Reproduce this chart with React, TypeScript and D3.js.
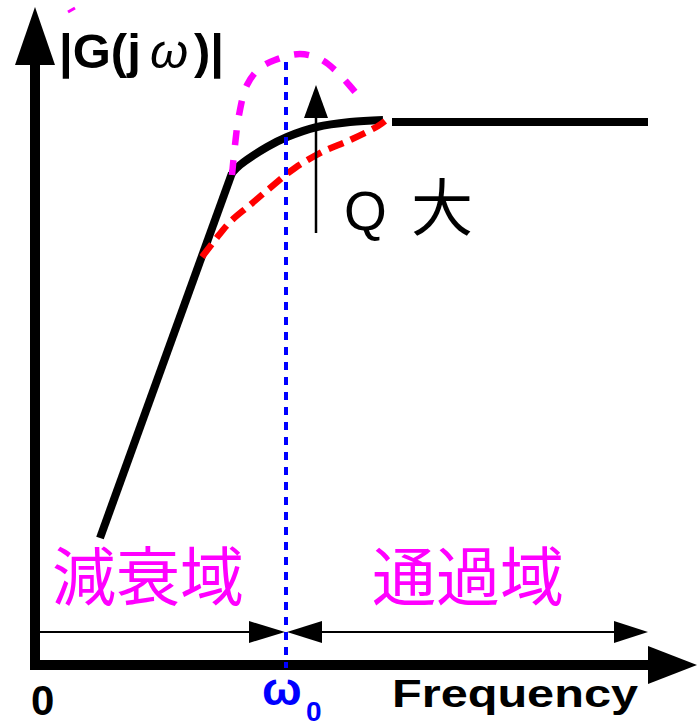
import React from "react";
import * as d3 from "d3";

const W = 697;
const H = 727;

// Curve data in plot units (x: frequency, y: |G(jω)|)
const rolloffLine: [number, number][] = [
  [65, 127],
  [197, 492],
];
const passbandCurve: [number, number][] = [
  [197, 492],
  [205, 500],
  [232, 518],
  [252, 528],
  [282, 538],
  [315, 543],
  [348, 545],
];
const passbandFlat: [number, number][] = [
  [357, 543],
  [613, 543],
];
const highQCurve: [number, number][] = [
  [197, 490],
  [200, 520],
  [204, 550],
  [212, 580],
  [225, 597],
  [240, 605],
  [265, 611],
  [285, 606],
  [300, 595],
  [315, 579],
  [325, 567],
];
const lowQCurve: [number, number][] = [
  [167, 408],
  [180, 425],
  [195, 443],
  [215, 460],
  [235, 477],
  [260, 497],
  [287, 513],
  [315, 525],
  [343, 539],
  [350, 544],
];
const strayDash: [number, number][] = [
  [33, 653],
  [40, 657],
];

const omega0 = 251;
const axisTipX = 662;
const axisTipY = 658;
const bandArrowLevel = 33;
const bandStart = 5;
const bandEnd = 613;
const qArrowX = 281;
const qArrowFrom = 432;
const qArrowTo = 580;

const stopbandLabel = "減衰域";
const passbandLabel = "通過域";
const qLabel = "Q";
const qLabelBig = "大";
const xAxisLabel = "Frequency";
const originLabel = "0";

const x = d3.scaleLinear().domain([0, 650]).range([35, 685]);
const y = d3.scaleLinear().domain([0, 650]).range([665, 15]);

const straight = d3
  .line<[number, number]>()
  .x((d) => x(d[0]))
  .y((d) => y(d[1]));
const smooth = d3
  .line<[number, number]>()
  .x((d) => x(d[0]))
  .y((d) => y(d[1]))
  .curve(d3.curveCatmullRom.alpha(0.5));

const SANS = "'Liberation Sans', Arial, sans-serif";
const CJK = "'Noto Sans CJK JP', 'Noto Sans CJK SC', sans-serif";

function tri(tipX: number, tipY: number, dir: "up" | "right" | "left", len: number, half: number) {
  if (dir === "up")
    return `${tipX},${tipY} ${tipX - half},${tipY + len} ${tipX + half},${tipY + len}`;
  if (dir === "right")
    return `${tipX},${tipY} ${tipX - len},${tipY - half} ${tipX - len},${tipY + half}`;
  return `${tipX},${tipY} ${tipX + len},${tipY - half} ${tipX + len},${tipY + half}`;
}

export default function App() {
  const x0 = x(0);
  const y0 = y(0);
  const yTop = y(axisTipY);
  const xRight = x(axisTipX);
  const wx = x(omega0);
  const bandY = y(bandArrowLevel);
  const qx = x(qArrowX);

  return (
    <svg
      width={W}
      height={H}
      viewBox={`0 0 ${W} ${H}`}
      style={{ position: "absolute", left: 0, top: 0, background: "#fff" }}
    >
      {/* axes */}
      <line x1={x0} y1={y0 + 5} x2={x0} y2={yTop + 55} stroke="#000" strokeWidth={10} />
      <polygon points={tri(x0, yTop, "up", 58, 20)} fill="#000" />
      <line x1={x0 - 5} y1={y0} x2={xRight - 45} y2={y0} stroke="#000" strokeWidth={10} />
      <polygon points={tri(xRight, y0, "right", 49, 19)} fill="#000" />

      {/* band arrows */}
      <line x1={x(bandStart)} y1={bandY} x2={wx - 30} y2={bandY} stroke="#000" strokeWidth={2} />
      <polygon points={tri(wx - 1, bandY, "right", 36, 11)} fill="#000" />
      <polygon points={tri(wx + 1, bandY, "left", 35, 11)} fill="#000" />
      <line x1={wx + 30} y1={bandY} x2={x(bandEnd) - 30} y2={bandY} stroke="#000" strokeWidth={2} />
      <polygon points={tri(x(bandEnd), bandY, "right", 34, 11)} fill="#000" />

      {/* response curves */}
      <path d={straight(rolloffLine) ?? ""} fill="none" stroke="#000" strokeWidth={8} />
      <path
        d={smooth(passbandCurve) ?? ""}
        fill="none"
        stroke="#000"
        strokeWidth={8}
        strokeLinejoin="round"
      />
      <path d={straight(passbandFlat) ?? ""} fill="none" stroke="#000" strokeWidth={8} />
      <path
        d={smooth(highQCurve) ?? ""}
        fill="none"
        stroke="#ff00ff"
        strokeWidth={6.5}
        strokeDasharray="15 15"
      />
      <path
        d={smooth(lowQCurve) ?? ""}
        fill="none"
        stroke="#ff0000"
        strokeWidth={6.5}
        strokeDasharray="16 8"
      />
      <path d={straight(strayDash) ?? ""} fill="none" stroke="#ff00ff" strokeWidth={3} />

      {/* ω0 marker */}
      <line
        x1={wx}
        y1={y(603)}
        x2={wx}
        y2={y0 + 3}
        stroke="#0000ff"
        strokeWidth={4}
        strokeDasharray="8 7"
      />

      {/* Q arrow */}
      <line x1={qx} y1={y(qArrowFrom)} x2={qx} y2={y(qArrowTo) + 30} stroke="#000" strokeWidth={2.5} />
      <polygon points={tri(qx, y(qArrowTo), "up", 33, 12)} fill="#000" />
      <text x={344} y={230} fontFamily={SANS} fontSize={55} fill="#000">
        {qLabel}
      </text>
      <text x={411} y={231} fontFamily={CJK} fontSize={62} fill="#000">
        {qLabelBig}
      </text>

      {/* band labels */}
      <text x={52} y={600} fontFamily={CJK} fontSize={64} fill="#ff00ff">
        {stopbandLabel}
      </text>
      <text x={372} y={600} fontFamily={CJK} fontSize={64} fill="#ff00ff">
        {passbandLabel}
      </text>

      {/* title */}
      <text y={68} fontFamily={SANS} fontSize={49} fontWeight="bold" fill="#000">
        <tspan x={59}>|G(j</tspan>
        <tspan x={150} fontWeight="normal" fontStyle="italic">
          ω
        </tspan>
        <tspan x={194}>)|</tspan>
      </text>

      {/* axis labels */}
      <text x={31} y={715} fontFamily={SANS} fontSize={42} fontWeight="bold" fill="#000">
        {originLabel}
      </text>
      <text x={262} y={705} fontFamily={SANS} fontSize={47} fontWeight="bold" fill="#0000ff">
        ω
      </text>
      <text x={306} y={721} fontFamily={SANS} fontSize={28} fontWeight="bold" fill="#0000ff">
        0
      </text>
      <text
        x={392}
        y={707}
        fontFamily={SANS}
        fontSize={38}
        fontWeight="bold"
        fill="#000"
        textLength={246}
        lengthAdjust="spacingAndGlyphs"
      >
        {xAxisLabel}
      </text>
    </svg>
  );
}
